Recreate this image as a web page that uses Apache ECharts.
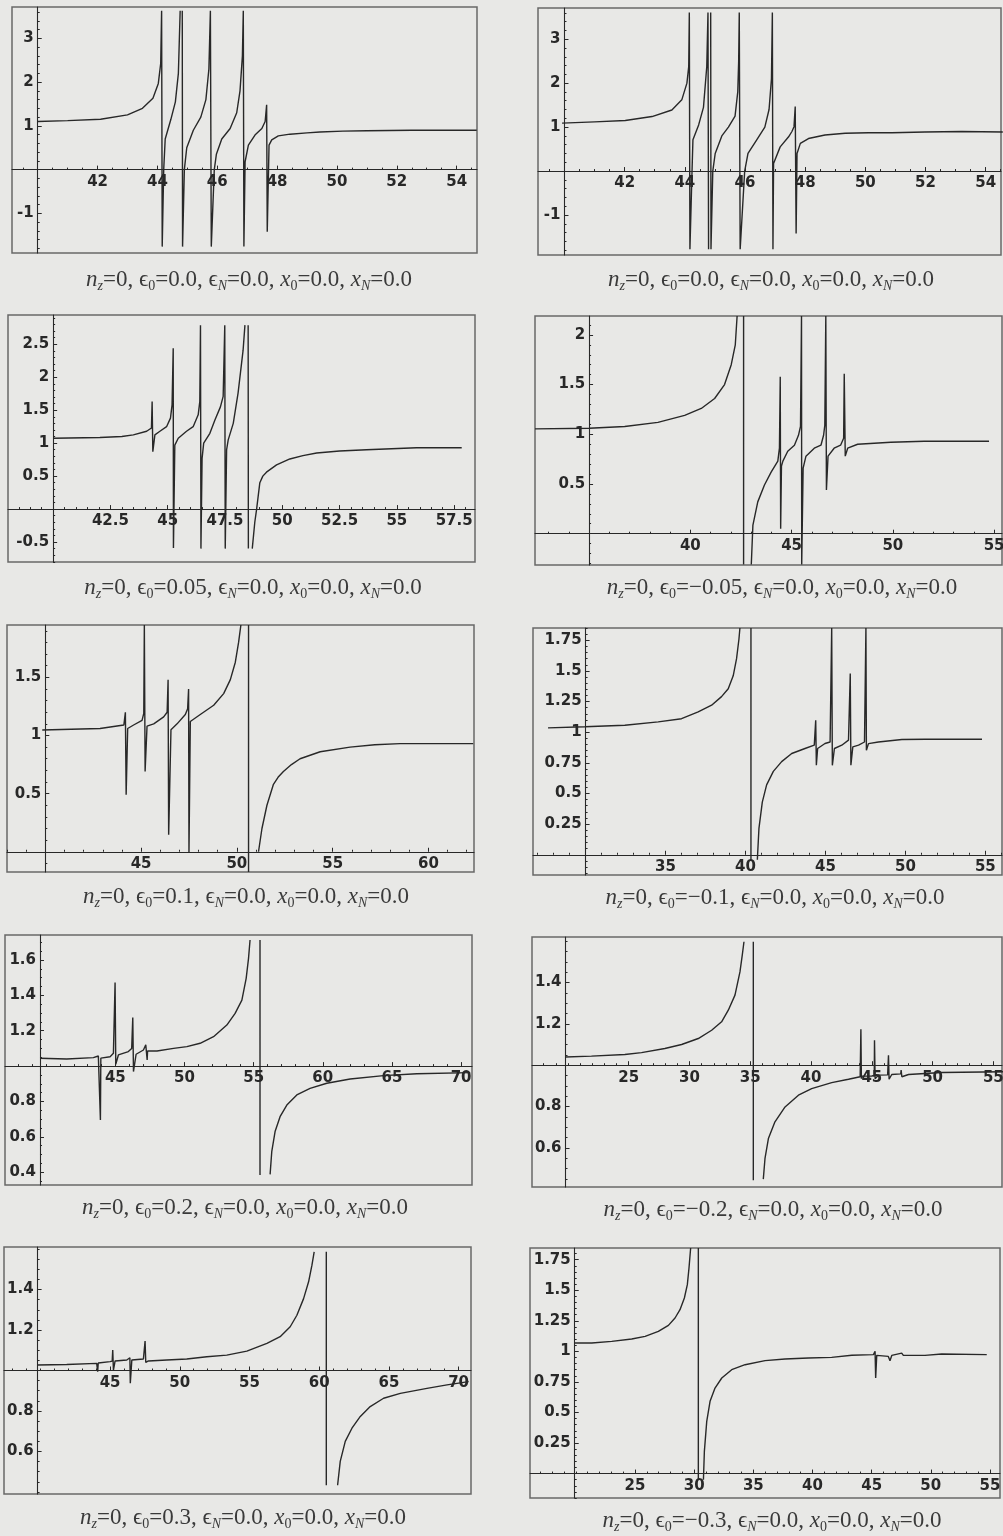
<!DOCTYPE html>
<html>
<head>
<meta charset="utf-8">
<title>Transmission resonances, n_z = 0</title>
<script src="https://cdn.jsdelivr.net/npm/echarts@6.0.0/dist/echarts.min.js"></script>
<style>
  html, body { margin: 0; padding: 0; background: #e8e8e6; }
  #chart { width: 1003px; height: 1536px; }
</style>
</head>
<body>
<div id="chart"></div>
<script>
// Curves as [x, y] points.
// null lifts the pen where the curve leaves the plotted range.
var curveA = [[40,1.10],[41,1.12],[42.1,1.15],[43.0,1.25],[43.5,1.40],[43.85,1.63],[44.03,1.97],[44.11,2.43],[44.14,3.63],[44.16,-1.76],[44.21,0],[44.26,0.7],[44.45,1.15],[44.6,1.55],[44.7,2.2],[44.76,3.63],null,[44.83,3.63],[44.84,-1.76],[44.9,0],[44.98,0.5],[45.2,0.9],[45.45,1.2],[45.62,1.6],[45.72,2.3],[45.77,3.63],[45.8,-1.76],[45.9,0],[45.97,0.35],[46.15,0.7],[46.43,0.94],[46.65,1.3],[46.76,1.8],[46.84,2.6],[46.87,3.63],[46.89,-1.76],[46.93,0.18],[47.04,0.56],[47.26,0.79],[47.49,0.94],[47.6,1.1],[47.65,1.48],[47.67,-1.42],[47.73,0.56],[47.82,0.68],[48.04,0.77],[48.43,0.81],[49.0,0.84],[49.43,0.86],[50.2,0.88],[51.0,0.89],[52.5,0.9],[54.67,0.9]];
var curveB = [[39.92,1.09],[41,1.12],[42.02,1.15],[42.91,1.24],[43.57,1.39],[43.9,1.62],[44.07,2.0],[44.13,2.38],[44.15,3.61],[44.17,-1.78],[44.24,0],[44.27,0.71],[44.46,1.05],[44.62,1.45],[44.73,2.38],[44.77,3.61],[44.79,-1.78],null,[44.86,3.61],[44.87,-1.78],[44.93,0],[45.01,0.4],[45.23,0.8],[45.45,1.0],[45.67,1.25],[45.76,1.8],[45.79,2.5],[45.81,3.61],[45.84,-1.78],[45.99,0],[46.1,0.4],[46.38,0.7],[46.66,1.0],[46.8,1.4],[46.88,2.1],[46.91,3.61],[46.93,-1.78],[46.95,0.17],[47.17,0.55],[47.45,0.78],[47.56,0.9],[47.63,1.01],[47.67,1.47],[47.7,-1.42],[47.73,0.4],[47.84,0.63],[48.11,0.74],[48.66,0.82],[49.33,0.86],[50.1,0.87],[50.88,0.87],[51.98,0.89],[53.2,0.9],[54.57,0.89]];
var curveC = [[40.0,1.075],[42.04,1.085],[43.0,1.1],[43.5,1.125],[44.08,1.18],[44.29,1.23],[44.32,1.63],[44.35,0.87],[44.44,1.125],[44.66,1.18],[44.95,1.25],[45.12,1.38],[45.19,1.58],[45.24,2.44],[45.25,-0.59],[45.31,0.97],[45.46,1.075],[45.82,1.18],[46.11,1.25],[46.33,1.43],[46.4,1.63],[46.43,2.79],[46.45,-0.6],[46.5,0.77],[46.57,1.0],[46.84,1.15],[47.06,1.35],[47.3,1.55],[47.42,1.71],[47.49,2.79],[47.51,-0.6],[47.57,0.9],[47.64,1.05],[47.86,1.3],[48.07,1.76],[48.29,2.41],[48.37,2.79],null,[48.51,2.79],[48.52,-0.6],null,[48.69,-0.6],[48.8,-0.2],[48.88,0],[49.02,0.4],[49.15,0.5],[49.31,0.56],[49.75,0.67],[50.33,0.76],[50.9,0.81],[51.5,0.85],[52.5,0.88],[53.68,0.9],[55.86,0.93],[57.83,0.93]];
var curveD = [[32.33,1.054],[35.0,1.06],[36.76,1.078],[38.4,1.12],[39.72,1.19],[40.54,1.26],[41.2,1.36],[41.69,1.5],[42.02,1.7],[42.22,1.9],[42.31,2.19],null,[42.63,2.19],[42.63,-0.31],null,[43.01,-0.31],[43.09,0.087],[43.33,0.32],[43.66,0.49],[43.99,0.62],[44.32,0.73],[44.4,0.86],[44.44,1.58],[44.46,0.05],[44.5,0.68],[44.57,0.73],[44.81,0.83],[45.14,0.89],[45.34,0.99],[45.44,1.08],[45.49,2.19],[45.5,-0.31],[45.57,0.66],[45.71,0.78],[46.12,0.86],[46.45,0.89],[46.58,0.99],[46.64,1.09],[46.69,2.19],[46.72,0.44],[46.8,0.78],[47.1,0.86],[47.42,0.89],[47.57,0.96],[47.6,1.61],[47.65,0.78],[47.77,0.86],[48.26,0.9],[49.9,0.92],[51.55,0.93],[54.75,0.93]];
var curveE = [[39.84,1.047],[42.86,1.06],[44.1,1.09],[44.18,1.2],[44.22,0.49],[44.3,1.06],[44.61,1.09],[45.05,1.13],[45.14,1.19],[45.17,1.95],[45.21,0.69],[45.31,1.08],[45.66,1.1],[46.18,1.16],[46.36,1.2],[46.41,1.48],[46.44,0.146],[46.56,1.05],[46.88,1.1],[47.31,1.18],[47.43,1.23],[47.48,1.4],[47.5,-0.01],[47.57,1.12],[48.09,1.18],[48.79,1.26],[49.31,1.36],[49.66,1.48],[49.92,1.63],[50.09,1.8],[50.21,1.95],null,[50.61,1.95],[50.61,-0.174],null,[51.13,0],[51.31,0.2],[51.57,0.4],[51.91,0.58],[52.15,0.64],[52.43,0.69],[52.85,0.75],[53.3,0.8],[54.35,0.86],[55.91,0.9],[57.2,0.92],[58.52,0.93],[62.34,0.93]];
var curveF = [[27.65,1.035],[29.95,1.044],[32.45,1.057],[34.54,1.084],[36.0,1.11],[37.04,1.165],[37.88,1.22],[38.5,1.29],[38.92,1.355],[39.23,1.46],[39.44,1.6],[39.59,1.76],[39.65,1.85],null,[40.34,1.85],[40.34,-0.04],null,[40.74,-0.04],[40.84,0.215],[41.05,0.43],[41.32,0.57],[41.74,0.68],[42.26,0.76],[42.89,0.826],[43.72,0.867],[44.3,0.894],[44.39,1.097],[44.43,0.73],[44.51,0.867],[44.97,0.908],[45.29,0.92],[45.39,1.85],[45.43,0.73],[45.56,0.867],[46.02,0.894],[46.44,0.935],[46.55,1.478],[46.59,0.73],[46.71,0.88],[47.07,0.894],[47.44,0.92],[47.53,1.85],[47.56,0.853],[47.69,0.907],[48.31,0.92],[49.78,0.94],[51.24,0.943],[54.79,0.943]];
var curveG = [[39.55,1.044],[41.48,1.04],[43.41,1.048],[43.77,1.057],[43.89,1.066],[43.92,0.695],[43.95,1.045],[44.62,1.053],[44.86,1.072],[44.98,1.473],[45.03,1.01],[45.22,1.063],[45.94,1.082],[46.18,1.1],[46.26,1.274],[46.31,0.969],[46.5,1.067],[47.03,1.091],[47.2,1.12],[47.27,1.13],[47.3,1.035],[47.33,1.085],[48.01,1.085],[49.21,1.1],[50.17,1.11],[51.13,1.129],[52.1,1.166],[53.06,1.232],[53.66,1.298],[54.15,1.373],[54.46,1.496],[54.63,1.609],[54.74,1.713],null,[55.46,1.713],[55.46,0.384],null,[56.19,0.388],[56.31,0.516],[56.55,0.63],[56.91,0.714],[57.4,0.78],[58.12,0.837],[59.08,0.874],[60.29,0.903],[61.98,0.927],[64.39,0.946],[66.8,0.957],[70.66,0.963]];
var curveH = [[19.79,1.04],[21.93,1.044],[24.68,1.052],[26.05,1.061],[27.97,1.081],[29.35,1.1],[30.72,1.129],[31.82,1.169],[32.64,1.21],[33.19,1.266],[33.74,1.339],[34.15,1.451],[34.34,1.532],[34.48,1.597],null,[35.25,1.597],[35.25,0.444],null,[36.07,0.449],[36.21,0.549],[36.49,0.645],[37.03,0.726],[37.86,0.798],[38.96,0.855],[40.05,0.887],[41.7,0.916],[43.08,0.932],[44.04,0.944],[44.1,1.174],[44.14,0.935],[44.2,0.947],[45.0,0.948],[45.2,0.95],[45.22,1.121],[45.27,0.935],[45.55,0.952],[46.3,0.953],[46.37,1.048],[46.42,0.932],[46.64,0.955],[47.38,0.958],[47.41,0.976],[47.47,0.944],[48.02,0.955],[50.76,0.965],[55.8,0.968]];
var curveI = [[39.78,1.027],[41.89,1.03],[44.04,1.035],[44.09,1.044],[44.11,0.994],[44.15,1.037],[45.0,1.044],[45.15,1.046],[45.19,1.101],[45.24,1.002],[45.36,1.047],[46.2,1.052],[46.42,1.063],[46.45,0.937],[46.56,1.052],[47.39,1.057],[47.51,1.145],[47.56,1.04],[47.75,1.047],[49.07,1.052],[50.5,1.057],[51.94,1.068],[53.37,1.076],[54.81,1.096],[56.25,1.134],[57.2,1.167],[57.92,1.216],[58.4,1.273],[58.88,1.355],[59.24,1.438],[59.48,1.52],[59.64,1.586],null,[60.51,1.586],[60.51,0.433],null,[61.32,0.433],[61.51,0.551],[61.87,0.65],[62.35,0.715],[62.95,0.773],[63.66,0.822],[64.62,0.863],[65.82,0.887],[67.73,0.912],[69.17,0.929],[70.72,0.945]];
var curveJ = [[19.87,1.069],[21.34,1.069],[23.03,1.082],[24.72,1.101],[25.85,1.123],[26.97,1.164],[27.82,1.213],[28.38,1.273],[28.8,1.341],[29.17,1.437],[29.42,1.546],[29.56,1.682],[29.7,1.846],null,[30.35,1.846],[30.35,-0.05],null,[30.78,-0.05],[30.86,0.182],[31.06,0.427],[31.34,0.591],[31.76,0.7],[32.33,0.782],[33.17,0.85],[34.3,0.891],[35.99,0.924],[37.68,0.938],[39.65,0.946],[41.62,0.951],[43.32,0.968],[45.15,0.973],[45.29,1.0],[45.34,0.782],[45.43,0.967],[46.41,0.959],[46.55,0.924],[46.7,0.967],[47.54,0.986],[47.68,0.967],[49.51,0.967],[50.92,0.978],[54.73,0.973]];

// tick labels
var xTicksAB = [42, 44, 46, 48, 50, 52, 54];
var yTicksAB = [-1, 1, 2, 3];
var xTicksC = [42.5, 45, 47.5, 50, 52.5, 55, 57.5];
var yTicksC = [-0.5, 0.5, 1, 1.5, 2, 2.5];
var xTicksD = [40, 45, 50, 55];
var yTicksD = [0.5, 1, 1.5, 2];
var xTicksE = [45, 50, 55, 60];
var yTicksE = [0.5, 1, 1.5];
var xTicksF = [35, 40, 45, 50, 55];
var yTicksQuarter = [0.25, 0.5, 0.75, 1, 1.25, 1.5, 1.75];
var xTicksGI = [45, 50, 55, 60, 65, 70];
var yTicksG = [0.4, 0.6, 0.8, 1.2, 1.4, 1.6];
var xTicksHJ = [25, 30, 35, 40, 45, 50, 55];
var yTicksHI = [0.6, 0.8, 1.2, 1.4];

// epsilon_0 value in each caption
var eps0 = ["0.0", "0.0", "0.05", "\u22120.05", "0.1", "\u22120.1", "0.2", "\u22120.2", "0.3", "\u22120.3"];

// box = frame in px [left, top, width, height]; xr/yr = data range of the frame;
// cross = where the two axes meet; minor = minor tick steps; cap = caption centre
var panels = [
  { curve: curveA, xt: xTicksAB, yt: yTicksAB, box: [12, 7, 465, 246], xr: [39.14, 54.68], yr: [-1.906, 3.717], cross: [40, 0], minor: [0.5, 0.2], cap: [249, 280] },
  { curve: curveB, xt: xTicksAB, yt: yTicksAB, box: [538, 8, 463, 247], xr: [39.12, 54.51], yr: [-1.91, 3.71], cross: [40, 0], minor: [0.5, 0.2], cap: [771, 280] },
  { curve: curveC, xt: xTicksC, yt: yTicksC, box: [8, 315, 467, 247], xr: [38.03, 58.41], yr: [-0.803, 2.944], cross: [40, 0], minor: [0.5, 0.1], cap: [253, 588] },
  { curve: curveD, xt: xTicksD, yt: yTicksD, box: [535, 316, 467, 249], xr: [32.33, 55.39], yr: [-0.315, 2.19], cross: [35, 0], minor: [1, 0.1], cap: [782, 588] },
  { curve: curveE, xt: xTicksE, yt: yTicksE, box: [7, 625, 467, 247], xr: [38.0, 62.38], yr: [-0.174, 1.95], cross: [40, 0], minor: [1, 0.1], cap: [246, 897] },
  { curve: curveF, xt: xTicksF, yt: yTicksQuarter, box: [533, 628, 469, 247], xr: [26.71, 56.04], yr: [-0.165, 1.85], cross: [30, 0], minor: [1, 0.05], cap: [775, 898] },
  { curve: curveG, xt: xTicksGI, yt: yTicksG, box: [5, 935, 467, 250], xr: [37.02, 70.79], yr: [0.328, 1.741], cross: [39.55, 1], minor: [1, 0.05], cap: [245, 1208] },
  { curve: curveH, xt: xTicksHJ, yt: yTicksHI, box: [532, 937, 470, 250], xr: [17.04, 55.71], yr: [0.411, 1.62], cross: [19.8, 1], minor: [1, 0.05], cap: [773, 1210] },
  { curve: curveI, xt: xTicksGI, yt: yTicksHI, box: [4, 1247, 467, 247], xr: [37.39, 70.89], yr: [0.39, 1.61], cross: [39.8, 1], minor: [1, 0.05], cap: [243, 1518] },
  { curve: curveJ, xt: xTicksHJ, yt: yTicksQuarter, box: [530, 1248, 470, 250], xr: [16.12, 55.85], yr: [-0.2, 1.846], cross: [19.9, 0], minor: [1, 0.05], cap: [772, 1521] }
];

var ink = "#282828";
var frameInk = "#686868";
var capInk = "#3a3a3a";
var serif = "Liberation Serif, Times New Roman, serif";

function minorValues(range, step, majors) {
  var out = [];
  var k0 = Math.ceil(range[0] / step - 1e-9), k1 = Math.floor(range[1] / step + 1e-9);
  for (var k = k0; k <= k1; k++) {
    var v = +(k * step).toFixed(4);
    var major = majors.some(function (m) { return Math.abs(m - v) < 1e-6; });
    if (!major) out.push(v);
  }
  return out;
}

function axis(dim, gi, range, offset, values, major) {
  return {
    type: "value", gridIndex: gi, min: range[0], max: range[1],
    position: dim === "x" ? "bottom" : "left", offset: offset,
    axisLine: { show: major, onZero: false, lineStyle: { color: ink, width: 1.1 } },
    axisTick: { show: true, inside: true, length: major ? 4 : 2, customValues: values,
                lineStyle: { color: ink, width: 1 } },
    axisLabel: major ? {
      show: true, customValues: values, margin: dim === "x" ? 5 : 4,
      fontFamily: "DejaVu Sans", fontWeight: "bold", fontSize: 15, color: ink
    } : { show: false },
    splitLine: { show: false },
    minorTick: { show: false }
  };
}

function caption(eps) {
  return "{it|n}{sbi|z}{rm|=0, \u03f5}{sb|0}{rm|=" + eps + ", \u03f5}{sbi|N}{rm|=0.0, }" +
         "{it|x}{sb|0}{rm|=0.0, }{it|x}{sbi|N}{rm|=0.0}";
}

function capStyle(size, italic, sub) {
  return {
    fontFamily: serif, fontSize: size, fontWeight: "normal",
    fontStyle: italic ? "italic" : "normal", color: capInk,
    lineHeight: sub ? 14 : 27, verticalAlign: sub ? "bottom" : "middle"
  };
}

var capRich = {
  rm: capStyle(23, false, false),
  it: capStyle(23, true, false),
  sb: capStyle(14, false, true),
  sbi: capStyle(14, true, true)
};

var grids = [], xAxes = [], yAxes = [], series = [], titles = [];

panels.forEach(function (p, i) {
  var b = p.box;
  grids.push({
    left: b[0], top: b[1], width: b[2], height: b[3], show: true,
    borderColor: frameInk, borderWidth: 1.5, backgroundColor: "transparent",
    containLabel: false, outerBoundsMode: "none"
  });
  // axes sit where Mathematica crossed them, not on the frame
  var xOff = -(p.cross[1] - p.yr[0]) / (p.yr[1] - p.yr[0]) * b[3];
  var yOff = -(p.cross[0] - p.xr[0]) / (p.xr[1] - p.xr[0]) * b[2];
  xAxes.push(axis("x", i, p.xr, xOff, p.xt, true));
  xAxes.push(axis("x", i, p.xr, xOff, minorValues(p.xr, p.minor[0], p.xt), false));
  yAxes.push(axis("y", i, p.yr, yOff, p.yt, true));
  yAxes.push(axis("y", i, p.yr, yOff, minorValues(p.yr, p.minor[1], p.yt), false));

  series.push({
    type: "line", xAxisIndex: 2 * i, yAxisIndex: 2 * i,
    data: p.curve.map(function (pt) { return pt ? pt : [NaN, NaN]; }),
    symbol: "none", showSymbol: false, connectNulls: false, clip: true,
    lineStyle: { color: ink, width: 1.4 }, silent: true, z: 3
  });

  titles.push({
    text: caption(eps0[i]), left: p.cap[0], top: p.cap[1], padding: 0,
    textAlign: "center", textVerticalAlign: "middle",
    textStyle: { fontFamily: serif, fontSize: 23, fontWeight: "normal", color: capInk, rich: capRich }
  });
});

var chart = echarts.init(document.getElementById("chart"), null, { renderer: "canvas" });
chart.setOption({
  animation: false,
  backgroundColor: "#e8e8e6",
  title: titles,
  grid: grids,
  xAxis: xAxes,
  yAxis: yAxes,
  series: series
});
</script>
</body>
</html>
